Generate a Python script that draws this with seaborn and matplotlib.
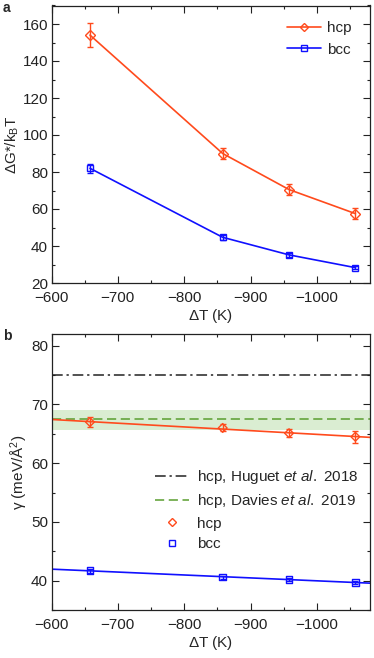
import numpy as np
import pandas as pd
import matplotlib
matplotlib.use("Agg")
import matplotlib.pyplot as plt
from matplotlib.ticker import MultipleLocator
from matplotlib.lines import Line2D
import seaborn as sns

# ---- data ----
dT = [-658, -858, -958, -1058]
hcp_G = [154.0, 90.0, 70.5, 57.5]
hcp_G_err = [6.5, 3.0, 2.8, 3.0]
bcc_G = [82.0, 44.7, 35.2, 28.3]
bcc_G_err = [2.5, 1.2, 1.0, 0.9]
hcp_gamma = [67.0, 66.0, 65.1, 64.5]
hcp_gamma_err = [0.9, 0.6, 0.7, 1.0]
bcc_gamma = [41.7, 40.6, 40.2, 39.7]
bcc_gamma_err = [0.35, 0.25, 0.25, 0.25]
huguet = 75.0
davies = 67.45
davies_lo, davies_hi = 65.7, 69.1

C_HCP = "#ff4a1c"
C_BCC = "#1010ff"
C_GREEN = "#5a9e2f"
FS = 11

sns.set_style("ticks")
plt.rcParams["font.family"] = ["Liberation Sans", "DejaVu Sans"]
plt.rcParams["mathtext.fontset"] = "custom"
plt.rcParams["mathtext.rm"] = "Liberation Sans"
plt.rcParams["mathtext.it"] = "Liberation Sans:italic"
plt.rcParams["mathtext.bf"] = "Liberation Sans:bold"
plt.rcParams["font.size"] = FS

fig = plt.figure(figsize=(3.74, 6.58), dpi=100)
W, H = 374, 658
L, R = 51.5, 370
ax1 = fig.add_axes([L / W, 1 - 283 / H, (R - L) / W, (283 - 5.5) / H])
ax2 = fig.add_axes([L / W, 1 - 610 / H, (R - L) / W, (610 - 334) / H])

dfa = pd.DataFrame({"dT": dT * 2, "G": hcp_G + bcc_G,
                    "phase": ["hcp"] * 4 + ["bcc"] * 4})
sns.lineplot(data=dfa, x="dT", y="G", hue="phase", style="phase",
             palette={"hcp": C_HCP, "bcc": C_BCC},
             markers={"hcp": "D", "bcc": "s"}, dashes=False,
             markersize=5, markerfacecolor="none", markeredgewidth=1.0,
             linewidth=1.2, ax=ax1, legend=False, zorder=3)
for line, c in zip(ax1.lines, [C_HCP, C_BCC]):
    line.set_markeredgecolor(c)
    line.set_markerfacecolor("none")
ax1.errorbar(dT, hcp_G, yerr=hcp_G_err, fmt="none", ecolor=C_HCP,
             elinewidth=1.0, capsize=2.5, capthick=1.0)
ax1.errorbar(dT, bcc_G, yerr=bcc_G_err, fmt="none", ecolor=C_BCC,
             elinewidth=1.0, capsize=2.5, capthick=1.0)
h1 = [Line2D([], [], color=C_HCP, marker="D", markersize=4.5, mfc="none", lw=1.2),
      Line2D([], [], color=C_BCC, marker="s", markersize=5, mfc="none", lw=1.2)]
ax1.legend(h1, ["hcp", "bcc"], loc="upper left", frameon=False, fontsize=FS,
           handlelength=2.2, handletextpad=0.45, borderaxespad=0, borderpad=0,
           labelspacing=0.5, bbox_to_anchor=((287 - L) / (R - L), (283 - 21) / 277.5))
ax1.set_xlim(-600, -1080)
ax1.set_ylim(20, 170)
ax1.yaxis.set_major_locator(MultipleLocator(20))
ax1.yaxis.set_minor_locator(MultipleLocator(10))
ax1.set_ylabel(r"$\Delta$G*/k$_\mathrm{B}$T", fontsize=FS, labelpad=1)
ax1.set_xlabel(r"$\Delta$T (K)", fontsize=FS, labelpad=1)

# panel b
ax2.axhspan(davies_lo, davies_hi, color="#9fd08a", alpha=0.38, lw=0, zorder=0)
ax2.axhline(huguet, color="#222222", ls=(0, (7, 2.5, 1.5, 2.5)), lw=1.1, zorder=1)
ax2.axhline(davies, color=C_GREEN, ls=(0, (6, 3)), lw=1.1, zorder=1)
dfh = pd.DataFrame({"dT": dT, "g": hcp_gamma})
dfb = pd.DataFrame({"dT": dT, "g": bcc_gamma})
ax2.set_xlim(-600, -1080)
sns.regplot(data=dfh, x="dT", y="g", ci=None, truncate=False, ax=ax2,
            scatter=False, line_kws={"color": C_HCP, "lw": 1.2, "zorder": 2})
sns.regplot(data=dfb, x="dT", y="g", ci=None, truncate=False, ax=ax2,
            scatter=False, line_kws={"color": C_BCC, "lw": 1.2, "zorder": 2})
sns.scatterplot(x=dT, y=hcp_gamma, marker="D", s=20, facecolor="none",
                edgecolor=C_HCP, linewidth=1.0, ax=ax2, zorder=4)
sns.scatterplot(x=dT, y=bcc_gamma, marker="s", s=22, facecolor="none",
                edgecolor=C_BCC, linewidth=1.0, ax=ax2, zorder=4)
ax2.errorbar(dT, hcp_gamma, yerr=hcp_gamma_err, fmt="none", ecolor=C_HCP,
             elinewidth=1.0, capsize=2.5, capthick=1.0, zorder=3)
ax2.errorbar(dT, bcc_gamma, yerr=bcc_gamma_err, fmt="none", ecolor=C_BCC,
             elinewidth=1.0, capsize=2.5, capthick=1.0, zorder=3)
h2 = [Line2D([], [], color="#222222", ls=(0, (7, 2.5, 1.5, 2.5)), lw=1.1),
      Line2D([], [], color=C_GREEN, ls=(0, (6, 3)), lw=1.1),
      Line2D([], [], color=C_HCP, marker="D", markersize=4, mfc="none", ls="none"),
      Line2D([], [], color=C_BCC, marker="s", markersize=4.5, mfc="none", ls="none")]
ax2.legend(h2, [r"hcp, Huguet $\it{et\ al.}$ 2018", r"hcp, Davies $\it{et\ al.}$ 2019",
                "hcp", "bcc"], loc="upper left", frameon=False, fontsize=FS,
           handlelength=2.2, handletextpad=0.55, borderaxespad=0, borderpad=0,
           labelspacing=0.42,
           bbox_to_anchor=((155 - L) / (R - L), (610 - 468) / 276))
ax2.set_ylim(35, 82)
ax2.yaxis.set_major_locator(MultipleLocator(10))
ax2.yaxis.set_minor_locator(MultipleLocator(5))
ax2.set_ylabel("γ (meV/Å$^2$)", fontsize=FS, labelpad=1)
ax2.set_xlabel(r"$\Delta$T (K)", fontsize=FS, labelpad=1)

for ax in (ax1, ax2):
    ax.xaxis.set_major_locator(MultipleLocator(100))
    ax.xaxis.set_minor_locator(MultipleLocator(50))
    ax.tick_params(which="both", direction="in", top=True, right=True,
                   labelsize=FS, width=0.8, colors="#222222", pad=2.5)
    ax.tick_params(axis="x", which="both", pad=6)
    ax.tick_params(which="major", length=5)
    ax.tick_params(which="minor", length=2.5)
    for s in ax.spines.values():
        s.set_linewidth(0.9)
        s.set_color("#222222")

fig.text(3 / W, 1 - 8 / H, "a", fontsize=10, fontweight="bold", va="center")
fig.text(3 / W, 1 - 336 / H, "b", fontsize=10, fontweight="bold", va="center")

fig.savefig("out.png", dpi=100)
